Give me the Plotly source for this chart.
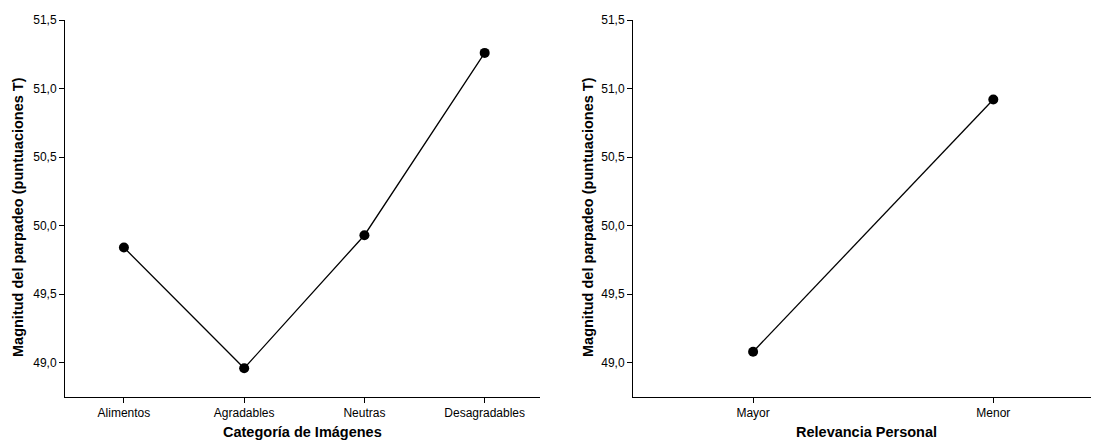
import plotly.graph_objects as go

cat_left = ["Alimentos", "Agradables", "Neutras", "Desagradables"]
val_left = [49.84, 48.96, 49.93, 51.26]
cat_right = ["Mayor", "Menor"]
val_right = [49.08, 50.92]
y_ticks = [49.0, 49.5, 50.0, 50.5, 51.0, 51.5]
y_title = "Magnitud del parpadeo (puntuaciones T)"
x_title_left = "Categoría de Imágenes"
x_title_right = "Relevancia Personal"

OFF = 8  # default page body margin
W, H = 1099 - OFF, 441 - OFF
FONT = "Liberation Sans, Arial, sans-serif"
TFONT = dict(size=14.5, color="black", family=FONT)


def px_x(p):
    return (p - OFF) / W


def px_y(p):
    return 1 - (p - OFF) / H


fig = go.Figure()
fig.add_trace(go.Scatter(x=cat_left, y=val_left, mode="lines+markers",
                         line=dict(color="black", width=1.3),
                         marker=dict(color="black", size=10),
                         xaxis="x", yaxis="y", showlegend=False))
fig.add_trace(go.Scatter(x=cat_right, y=val_right, mode="lines+markers",
                         line=dict(color="black", width=1.3),
                         marker=dict(color="black", size=10),
                         xaxis="x2", yaxis="y2", showlegend=False))

ydom = [px_y(397), px_y(20)]
common_y = dict(range=[48.75, 51.5], tickvals=y_ticks, tickformat=".1f",
                ticks="outside", ticklen=5, tickcolor="black", tickwidth=1,
                showline=True, linecolor="black", linewidth=1, showgrid=False,
                zeroline=False, automargin=False,
                tickfont=dict(size=12, color="black", family=FONT),
                domain=ydom)
common_x = dict(type="category", ticks="outside", ticklen=5, tickcolor="black",
                tickwidth=1, showline=True, linecolor="black", linewidth=1,
                showgrid=False, zeroline=False, automargin=False,
                tickfont=dict(size=12, color="black", family=FONT))

fig.update_layout(
    width=W, height=H, autosize=False,
    margin=dict(l=0, r=0, t=0, b=0),
    paper_bgcolor="white", plot_bgcolor="white",
    separators=",.",
    font=dict(family=FONT, color="black"),
    xaxis=dict(common_x, domain=[px_x(65), px_x(540)], range=[-0.49, 3.46], anchor="y"),
    yaxis=dict(common_y, anchor="x"),
    xaxis2=dict(common_x, domain=[px_x(633), 1.0], range=[-0.5, 1.44], anchor="y2"),
    yaxis2=dict(common_y, anchor="x2"),
)

ymid = px_y(217)
for xpix, text in [(18, y_title), (588, y_title)]:
    fig.add_annotation(x=px_x(xpix), y=ymid, xref="paper", yref="paper",
                       text="<b>" + text + "</b>", textangle=-90, showarrow=False,
                       font=TFONT, xanchor="center", yanchor="middle")
for xpix, text in [(302, x_title_left), (866, x_title_right)]:
    fig.add_annotation(x=px_x(xpix), y=px_y(432), xref="paper", yref="paper",
                       text="<b>" + text + "</b>", showarrow=False,
                       font=TFONT, xanchor="center", yanchor="middle")

fig.write_html("out.html")
